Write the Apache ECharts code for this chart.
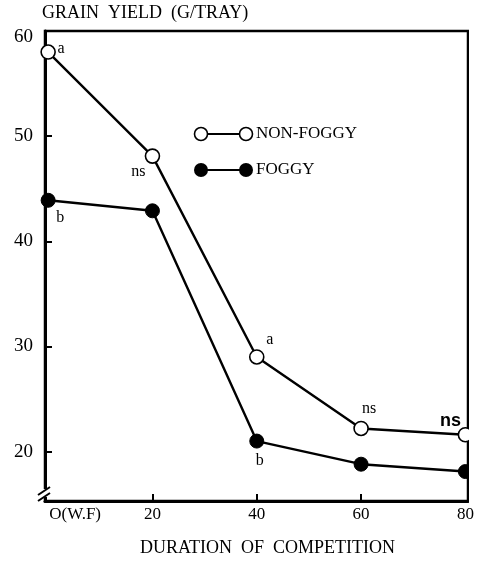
<!DOCTYPE html>
<html>
<head>
<meta charset="utf-8">
<script src="https://cdn.jsdelivr.net/npm/echarts@6/dist/echarts.min.js"></script>
<style>
html,body{margin:0;padding:0;background:#fff;}
#chart{width:480px;height:562px;}
</style>
</head>
<body>
<div id="chart"></div>
<script>
const durations = [0, 20, 40, 60, 80];
const xTickLabels = ['O(W.F)', '20', '40', '60', '80'];
const yTickValues = [20, 30, 40, 50, 60];
const nonFoggy = [58.0, 48.1, 29.0, 22.2, 21.6];
const foggy = [43.9, 42.9, 21.0, 18.8, 18.1];
const nonFoggyMarks = ['a', 'ns', 'a', 'ns', 'ns'];
const foggyMarks = ['b', '', 'b', '', ''];
const seriesNames = ['NON-FOGGY', 'FOGGY'];
const yTitle = 'GRAIN  YIELD  (G/TRAY)';
const xTitle = 'DURATION  OF  COMPETITION';

const SERIF = '"Liberation Serif","DejaVu Serif",serif';

const nfOffsets = [[13, -3], [-14, 16], [13, -17], [8, -20], [-15, -14]];
const fOffsets = [[12, 18], [0, 0], [3, 20], [0, 0], [0, 0]];

function buildData(vals, marks, offsets, bold) {
  return vals.map((v, i) => ({
    value: [durations[i], v],
    label: {
      show: marks[i] !== '',
      formatter: marks[i],
      position: 'inside',
      offset: offsets[i],
      color: '#000',
      fontFamily: (bold && i === 4) ? 'Arial, "Liberation Sans", sans-serif' : SERIF,
      fontWeight: (bold && i === 4) ? 'bold' : 'normal',
      fontSize: (bold && i === 4) ? 18 : 16
    }
  }));
}

const chart = echarts.init(document.getElementById('chart'), null, {renderer: 'canvas'});

const legendX1 = 201, legendX2 = 246, legendY1 = 134, legendY2 = 170;

chart.setOption({
  animation: false,
  backgroundColor: '#fff',
  grid: {left: 45, right: 12, top: 31, bottom: 56, show: true, borderColor: '#000', borderWidth: 2.5, backgroundColor: 'transparent'},
  xAxis: {
    type: 'value', min: -0.6, max: 80.5,
    splitLine: {show: false},
    axisLine: {show: true, onZero: false, lineStyle: {color: '#000', width: 3}},
    axisTick: {show: true, inside: true, length: 7, lineStyle: {color: '#000', width: 2}, customValues: [20, 40, 60]},
    axisLabel: {
      customValues: durations,
      margin: 5,
      color: '#000', fontFamily: SERIF, fontSize: 17,
      formatter: function (v) {
        const i = durations.indexOf(v);
        if (i === 0) return '{first|' + xTickLabels[0] + '}';
        return i >= 0 ? xTickLabels[i] : '';
      },
      rich: {first: {fontFamily: SERIF, fontSize: 17, color: '#000', padding: [0, 0, 0, 54]}}
    },
    name: xTitle, nameLocation: 'middle', nameGap: 38,
    nameTextStyle: {color: '#000', fontFamily: SERIF, fontSize: 18, padding: [0, 0, 0, 22]}
  },
  yAxis: {
    type: 'value', min: 15.3, max: 60,
    splitLine: {show: false},
    axisLine: {show: true, onZero: false, lineStyle: {color: '#000', width: 3}},
    axisTick: {show: true, inside: true, length: 7, lineStyle: {color: '#000', width: 2}, customValues: [20, 30, 40, 50]},
    axisLabel: {
      customValues: yTickValues, margin: 12, color: '#000', fontFamily: SERIF, fontSize: 19,
      formatter: function (v) { return v === 60 ? '{top|60}' : String(v); },
      rich: {top: {fontFamily: SERIF, fontSize: 19, color: '#000', padding: [12, 0, 0, 0]}}
    }
  },
  series: [
    {
      name: seriesNames[0], type: 'line', z: 3,
      data: buildData(nonFoggy, nonFoggyMarks, nfOffsets, true),
      symbol: 'circle', symbolSize: 14,
      itemStyle: {color: '#fff', borderColor: '#000', borderWidth: 1.6},
      lineStyle: {color: '#000', width: 2.4},
      clip: false
    },
    {
      name: seriesNames[1], type: 'line', z: 2,
      data: buildData(foggy, foggyMarks, fOffsets, false),
      symbol: 'circle', symbolSize: 14,
      itemStyle: {color: '#000', borderColor: '#000', borderWidth: 1},
      lineStyle: {color: '#000', width: 2.4},
      clip: false
    }
  ],
  graphic: [
    {type: 'rect', z: 100, shape: {x: 469, y: 0, width: 11, height: 505}, style: {fill: '#fff'}},
    {type: 'text', z: 100, left: 42, top: 4, style: {text: yTitle, font: '18px ' + SERIF, fill: '#000'}},
    // axis break
    {type: 'rect', z: 100, shape: {x: 40, y: 489, width: 9, height: 8}, style: {fill: '#fff'}},
    {type: 'line', z: 101, shape: {x1: 38, y1: 495, x2: 50, y2: 487}, style: {stroke: '#000', lineWidth: 2}},
    {type: 'line', z: 101, shape: {x1: 38, y1: 501, x2: 50, y2: 493}, style: {stroke: '#000', lineWidth: 2}},
    // legend
    {type: 'line', z: 100, shape: {x1: legendX1, y1: legendY1, x2: legendX2, y2: legendY1}, style: {stroke: '#000', lineWidth: 2}},
    {type: 'circle', z: 101, shape: {cx: legendX1, cy: legendY1, r: 6.5}, style: {fill: '#fff', stroke: '#000', lineWidth: 1.6}},
    {type: 'circle', z: 101, shape: {cx: legendX2, cy: legendY1, r: 6.5}, style: {fill: '#fff', stroke: '#000', lineWidth: 1.6}},
    {type: 'text', z: 100, x: 256, y: legendY1, style: {text: seriesNames[0], font: '17px ' + SERIF, fill: '#000', verticalAlign: 'middle'}},
    {type: 'line', z: 100, shape: {x1: legendX1, y1: legendY2, x2: legendX2, y2: legendY2}, style: {stroke: '#000', lineWidth: 2}},
    {type: 'circle', z: 101, shape: {cx: legendX1, cy: legendY2, r: 7}, style: {fill: '#000'}},
    {type: 'circle', z: 101, shape: {cx: legendX2, cy: legendY2, r: 7}, style: {fill: '#000'}},
    {type: 'text', z: 100, x: 256, y: legendY2, style: {text: seriesNames[1], font: '17px ' + SERIF, fill: '#000', verticalAlign: 'middle'}}
  ]
});
</script>
</body>
</html>
